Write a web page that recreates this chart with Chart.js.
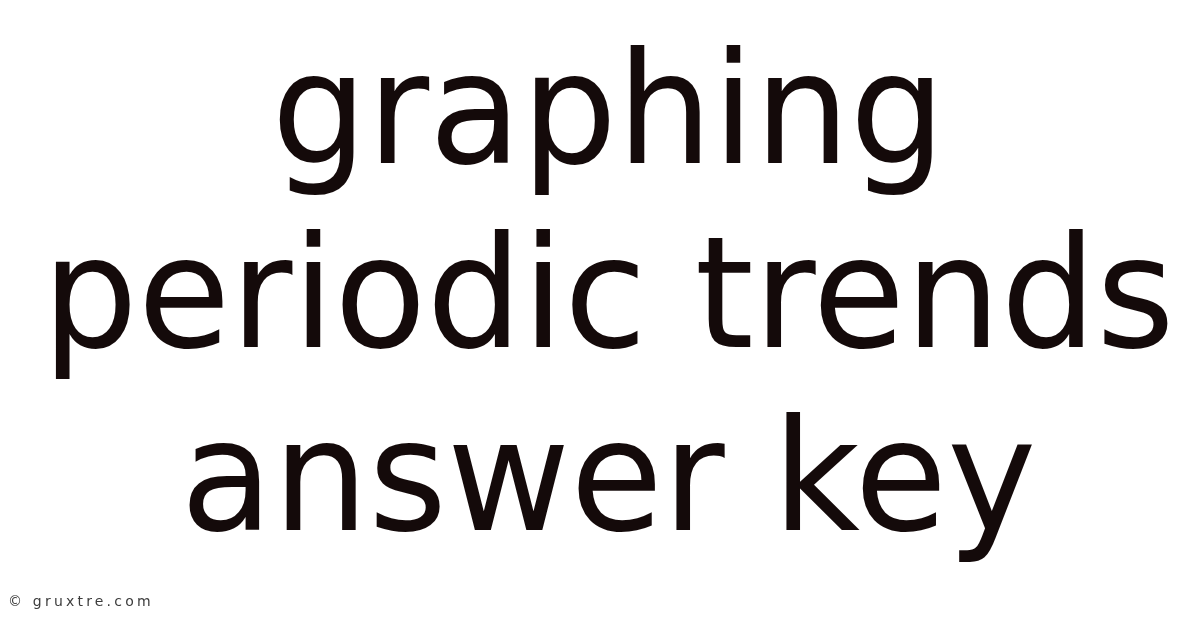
<!DOCTYPE html>
<html>
<head>
<meta charset="utf-8">
<style>
html,body{margin:0;padding:0;background:#ffffff;}
#wrap{width:1200px;height:628px;position:relative;}
</style>
<script src="https://cdn.jsdelivr.net/npm/chart.js@4"></script>
</head>
<body>
<div id="wrap"><canvas id="c" width="1200" height="628"></canvas></div>
<script>
const titleLines = ["graphing", "periodic trends", "answer key"];
const watermark = "© gruxtre.com";
const categories = [];
const values = [];

const textBlock = {
  id: 'textBlock',
  afterDraw(chart) {
    const ctx = chart.ctx;
    ctx.save();
    ctx.fillStyle = '#140a0a';
    ctx.font = 'normal 155px "DejaVu Sans"';
    ctx.textAlign = 'center';
    ctx.textBaseline = 'alphabetic';
    const cx = 608.5, first = 163, step = 183.5, sx = 0.972;
    titleLines.forEach((line, i) => {
      ctx.save();
      ctx.translate(cx, first + i * step);
      ctx.scale(sx, 1);
      ctx.fillText(line, 0, 0);
      ctx.restore();
    });
    ctx.fillStyle = '#3c3c3c';
    ctx.font = 'normal 14px "DejaVu Sans"';
    ctx.textAlign = 'left';
    try { ctx.letterSpacing = '3.2px'; } catch (e) {}
    ctx.fillText(watermark, 8, 606);
    ctx.restore();
  }
};

new Chart(document.getElementById('c'), {
  type: 'bar',
  data: { labels: categories, datasets: [{ data: values }] },
  options: {
    responsive: false,
    animation: false,
    layout: { padding: 0 },
    scales: { x: { display: false }, y: { display: false } },
    plugins: {
      legend: { display: false },
      tooltip: { enabled: false },
      title: { display: false }
    }
  },
  plugins: [{
    id: 'bg',
    beforeDraw(chart) {
      const ctx = chart.ctx;
      ctx.save();
      ctx.fillStyle = '#ffffff';
      ctx.fillRect(0, 0, chart.width, chart.height);
      ctx.restore();
    }
  }, textBlock]
});
</script>
</body>
</html>
